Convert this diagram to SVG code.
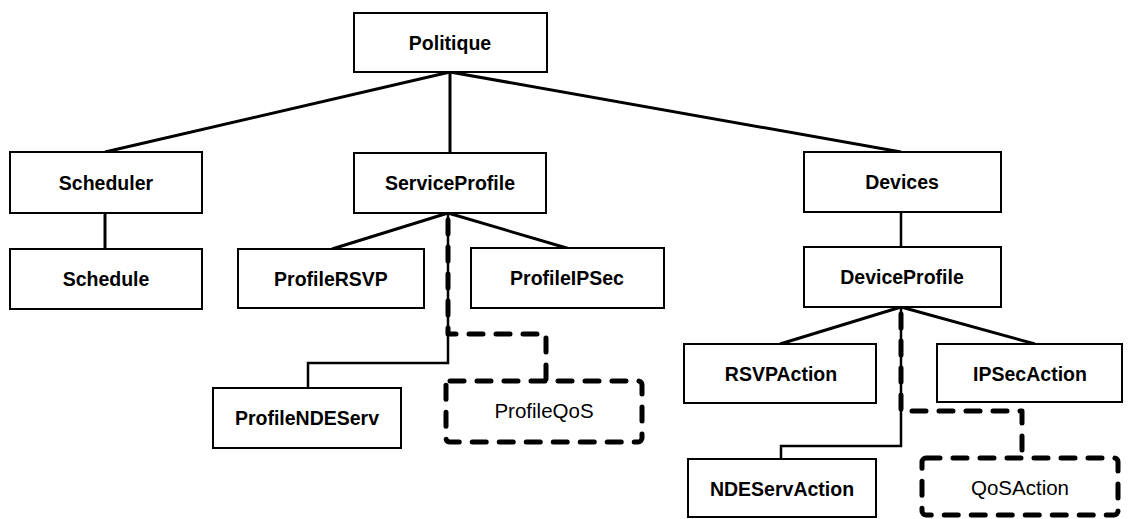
<svg xmlns="http://www.w3.org/2000/svg" width="1133" height="519" viewBox="0 0 1133 519">
<style>
.box{fill:#fff;stroke:#000;stroke-width:2}
.dbox{fill:#fff;stroke:#000;stroke-width:5;stroke-dasharray:14 13;stroke-linecap:round}
.t{font-family:"Liberation Sans",Arial,sans-serif;font-size:19.5px;font-weight:bold;text-anchor:middle;fill:#000}
.tn{font-family:"Liberation Sans",Arial,sans-serif;font-size:20.5px;font-weight:normal;text-anchor:middle;fill:#000}
.c{fill:none;stroke:#000;stroke-width:3}
.cs{fill:none;stroke:#000;stroke-width:2.5}
.cd{fill:none;stroke:#000;stroke-width:5;stroke-dasharray:14 13;stroke-linecap:round;stroke-linejoin:round}
</style>
<rect width="1133" height="519" fill="#fff"/>
<g id="connectors">
<line class="c" x1="450" y1="72" x2="105" y2="152"/>
<line class="c" x1="450" y1="72" x2="450" y2="153"/>
<line class="c" x1="450" y1="72" x2="901" y2="152"/>
<line class="c" x1="105" y1="213" x2="105" y2="249"/>
<line class="c" x1="448" y1="213" x2="332" y2="249"/>
<line class="c" x1="448" y1="213" x2="570" y2="249"/>
<path class="cs" d="M448 213 V363 H308 V388"/>
<path class="cd" d="M448 220 V334 H546 V381"/>
<line class="cs" x1="901" y1="212" x2="901" y2="247"/>
<line class="c" x1="901" y1="307" x2="780" y2="344"/>
<line class="c" x1="901" y1="307" x2="1035" y2="344"/>
<path class="cs" d="M901 307 V446 H781 V459"/>
<path class="cd" d="M901 314 V411 H1022 V458"/>
</g>
<g id="politique"><rect class="box" x="354" y="13" width="193" height="59"/><text class="t" x="450" y="50">Politique</text></g>
<g id="scheduler"><rect class="box" x="10" y="152" width="192" height="61"/><text class="t" x="106" y="190">Scheduler</text></g>
<g id="schedule"><rect class="box" x="10" y="249" width="192" height="60"/><text class="t" x="106" y="286">Schedule</text></g>
<g id="serviceprofile"><rect class="box" x="354" y="153" width="192" height="60"/><text class="t" x="450" y="190">ServiceProfile</text></g>
<g id="profilersvp"><rect class="box" x="238" y="249" width="186" height="59"/><text class="t" x="331" y="286">ProfileRSVP</text></g>
<g id="profileipsec"><rect class="box" x="471" y="248" width="193" height="60"/><text class="t" x="567" y="285">ProfileIPSec</text></g>
<g id="profilendeserv"><rect class="box" x="213" y="388" width="188" height="60"/><text class="t" x="307" y="425">ProfileNDEServ</text></g>
<g id="profileqos"><rect class="dbox" x="446" y="381" width="196" height="61" rx="4"/><text class="tn" x="544" y="418">ProfileQoS</text></g>
<g id="devices"><rect class="box" x="804" y="152" width="197" height="60"/><text class="t" x="902" y="189">Devices</text></g>
<g id="deviceprofile"><rect class="box" x="804" y="247" width="197" height="60"/><text class="t" x="902" y="284">DeviceProfile</text></g>
<g id="rsvpaction"><rect class="box" x="684" y="344" width="192" height="59"/><text class="t" x="781" y="381">RSVPAction</text></g>
<g id="ipsecaction"><rect class="box" x="937" y="344" width="185" height="58"/><text class="t" x="1030" y="381">IPSecAction</text></g>
<g id="ndeservaction"><rect class="box" x="688" y="459" width="188" height="58"/><text class="t" x="782" y="496">NDEServAction</text></g>
<g id="qosaction"><rect class="dbox" x="922" y="458" width="196" height="57" rx="4"/><text class="tn" x="1020" y="495">QoSAction</text></g>
</svg>
